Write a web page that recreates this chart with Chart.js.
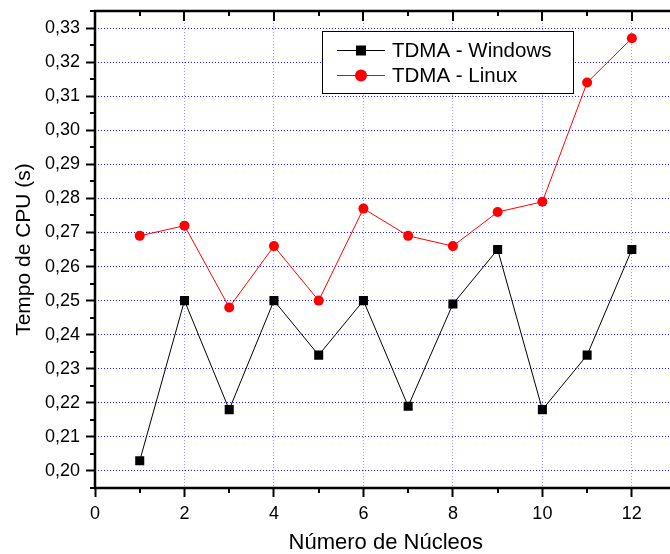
<!DOCTYPE html>
<html>
<head>
<meta charset="utf-8">
<script src="https://cdn.jsdelivr.net/npm/chart.js@4"></script>
<style>
html,body{margin:0;padding:0;background:#fff;overflow:hidden;width:670px;height:554px;}
canvas{display:block;}
</style>
</head>
<body>
<canvas id="c" width="683" height="554"></canvas>
<script>
const nucleos = [1,2,3,4,5,6,7,8,9,10,11,12];
const windowsValues = [0.203,0.250,0.218,0.250,0.234,0.250,0.219,0.249,0.265,0.218,0.234,0.265];
const linuxValues = [0.269,0.272,0.248,0.266,0.250,0.277,0.269,0.266,0.276,0.279,0.314,0.327];
const seriesLabels = ['TDMA - Windows','TDMA - Linux'];
const xTicks = [0,2,4,6,8,10,12];
const xMinorTicks = [1,3,5,7,9,11];
const yTicks = [0.20,0.21,0.22,0.23,0.24,0.25,0.26,0.27,0.28,0.29,0.30,0.31,0.32,0.33];
const yMinorTicks = [0.195,0.205,0.215,0.225,0.235,0.245,0.255,0.265,0.275,0.285,0.295,0.305,0.315,0.325,0.335];
const xTitle = 'Número de Núcleos';
const yTitle = 'Tempo de CPU (s)';

const FONT = 'Arial, "Liberation Sans", sans-serif';

const framePlugin = {
  id: 'frame',
  afterDraw(chart) {
    const {ctx, chartArea: a, scales: {x, y}} = chart;
    ctx.save();
    ctx.strokeStyle = '#000';
    // top axis line
    ctx.lineWidth = 2.5;
    ctx.beginPath(); ctx.moveTo(a.left - 1, a.top); ctx.lineTo(a.right + 2, a.top); ctx.stroke();
    ctx.lineWidth = 2;
    // top axis inward ticks
    xTicks.forEach(v => { const px = Math.round(x.getPixelForValue(v)); ctx.beginPath(); ctx.moveTo(px, a.top); ctx.lineTo(px, a.top + 10); ctx.stroke(); });
    xMinorTicks.forEach(v => { const px = Math.round(x.getPixelForValue(v)); ctx.beginPath(); ctx.moveTo(px, a.top); ctx.lineTo(px, a.top + 5); ctx.stroke(); });
    // bottom minor ticks (outward)
    xMinorTicks.forEach(v => { const px = Math.round(x.getPixelForValue(v)); ctx.beginPath(); ctx.moveTo(px, a.bottom); ctx.lineTo(px, a.bottom + 5); ctx.stroke(); });
    // left minor ticks (outward)
    yMinorTicks.forEach(v => { const py = Math.round(y.getPixelForValue(v)); ctx.beginPath(); ctx.moveTo(a.left, py); ctx.lineTo(a.left - 5, py); ctx.stroke(); });
    // axes lines
    ctx.lineWidth = 2.5;
    ctx.beginPath(); ctx.moveTo(a.left, a.top - 1); ctx.lineTo(a.left, a.bottom + 1); ctx.stroke();
    ctx.beginPath(); ctx.moveTo(a.left - 1, a.bottom); ctx.lineTo(a.right + 2, a.bottom); ctx.stroke();

    // legend
    const bx = a.left + 227, by = a.top + 20, bw = 251, bh = 62;
    ctx.fillStyle = '#fff';
    ctx.fillRect(bx, by, bw, bh);
    ctx.lineWidth = 1;
    ctx.strokeStyle = '#000';
    ctx.strokeRect(bx + 0.5, by + 0.5, bw, bh);
    chart.data.datasets.forEach((ds, i) => {
      const cy = by + 19 + i * 25;
      ctx.strokeStyle = ds.borderColor;
      ctx.lineWidth = 1;
      ctx.beginPath(); ctx.moveTo(bx + 15, cy + 0.5); ctx.lineTo(bx + 63, cy + 0.5); ctx.stroke();
      ctx.fillStyle = ds.pointBackgroundColor;
      const mx = bx + 39;
      if (ds.pointStyle === 'rect') {
        ctx.fillRect(mx - 5, cy - 4.5, 10, 10);
      } else {
        ctx.beginPath(); ctx.arc(mx, cy + 0.5, 6, 0, Math.PI * 2); ctx.fill();
      }
      ctx.fillStyle = '#000';
      ctx.font = '20.5px ' + FONT;
      ctx.textBaseline = 'middle';
      ctx.textAlign = 'left';
      ctx.fillText(ds.label, bx + 70, cy + 1);
    });
    ctx.restore();
  }
};

new Chart(document.getElementById('c'), {
  type: 'line',
  data: {
    datasets: [
      {
        label: seriesLabels[0],
        data: nucleos.map((n, i) => ({x: n, y: windowsValues[i]})),
        borderColor: '#000',
        backgroundColor: '#000',
        pointBackgroundColor: '#000',
        pointBorderColor: '#000',
        pointStyle: 'rect',
        pointRadius: 6.4,
        pointBorderWidth: 0,
        borderWidth: 1,
        tension: 0
      },
      {
        label: seriesLabels[1],
        data: nucleos.map((n, i) => ({x: n, y: linuxValues[i]})),
        borderColor: '#ff0000',
        backgroundColor: '#ff0000',
        pointBackgroundColor: '#ff0000',
        pointBorderColor: '#ff0000',
        pointStyle: 'circle',
        pointRadius: 5,
        pointBorderWidth: 0,
        borderWidth: 1,
        tension: 0
      }
    ]
  },
  options: {
    responsive: false,
    animation: false,
    devicePixelRatio: 1,
    layout: {padding: {top: 11, right: 0, left: 0, bottom: 0}},
    plugins: {legend: {display: false}, tooltip: {enabled: false}},
    scales: {
      x: {
        type: 'linear',
        min: 0,
        max: 13,
        afterBuildTicks: s => { s.ticks = xTicks.map(v => ({value: v})); },
        afterFit: s => { s.height = 66; s.paddingLeft = 0; s.paddingRight = 0; },
        ticks: {
          color: '#000',
          font: {family: FONT, size: 18},
          padding: 6,
          maxRotation: 0,
          autoSkip: false
        },
        grid: {
          color: 'rgba(110,110,255,0.7)',
          lineWidth: 1,
          drawTicks: true,
          tickLength: 9,
          tickColor: '#000',
          tickWidth: 2,
          tickBorderDash: []
        },
        border: {display: false, dash: [1, 2]},
        title: {
          display: true,
          text: xTitle,
          color: '#000',
          font: {family: FONT, size: 22, lineHeight: 1},
          padding: {top: 0, bottom: 0}
        }
      },
      y: {
        type: 'linear',
        min: 0.195,
        max: 0.335,
        afterBuildTicks: s => { s.ticks = yTicks.map(v => ({value: v})); },
        afterFit: s => { s.width = 95; s.paddingTop = 0; s.paddingBottom = 0; },
        ticks: {
          color: '#000',
          font: {family: FONT, size: 18},
          padding: 6,
          callback: v => v.toFixed(2).replace('.', ',')
        },
        grid: {
          color: 'rgba(0,0,255,0.9)',
          lineWidth: 1,
          drawTicks: true,
          tickLength: 9,
          tickColor: '#000',
          tickWidth: 2,
          tickBorderDash: []
        },
        border: {display: false, dash: [1, 2]},
        title: {
          display: true,
          text: yTitle,
          color: '#000',
          font: {family: FONT, size: 21, lineHeight: 1},
          padding: {top: 14, bottom: 0}
        }
      }
    }
  },
  plugins: [framePlugin]
});
</script>
</body>
</html>
